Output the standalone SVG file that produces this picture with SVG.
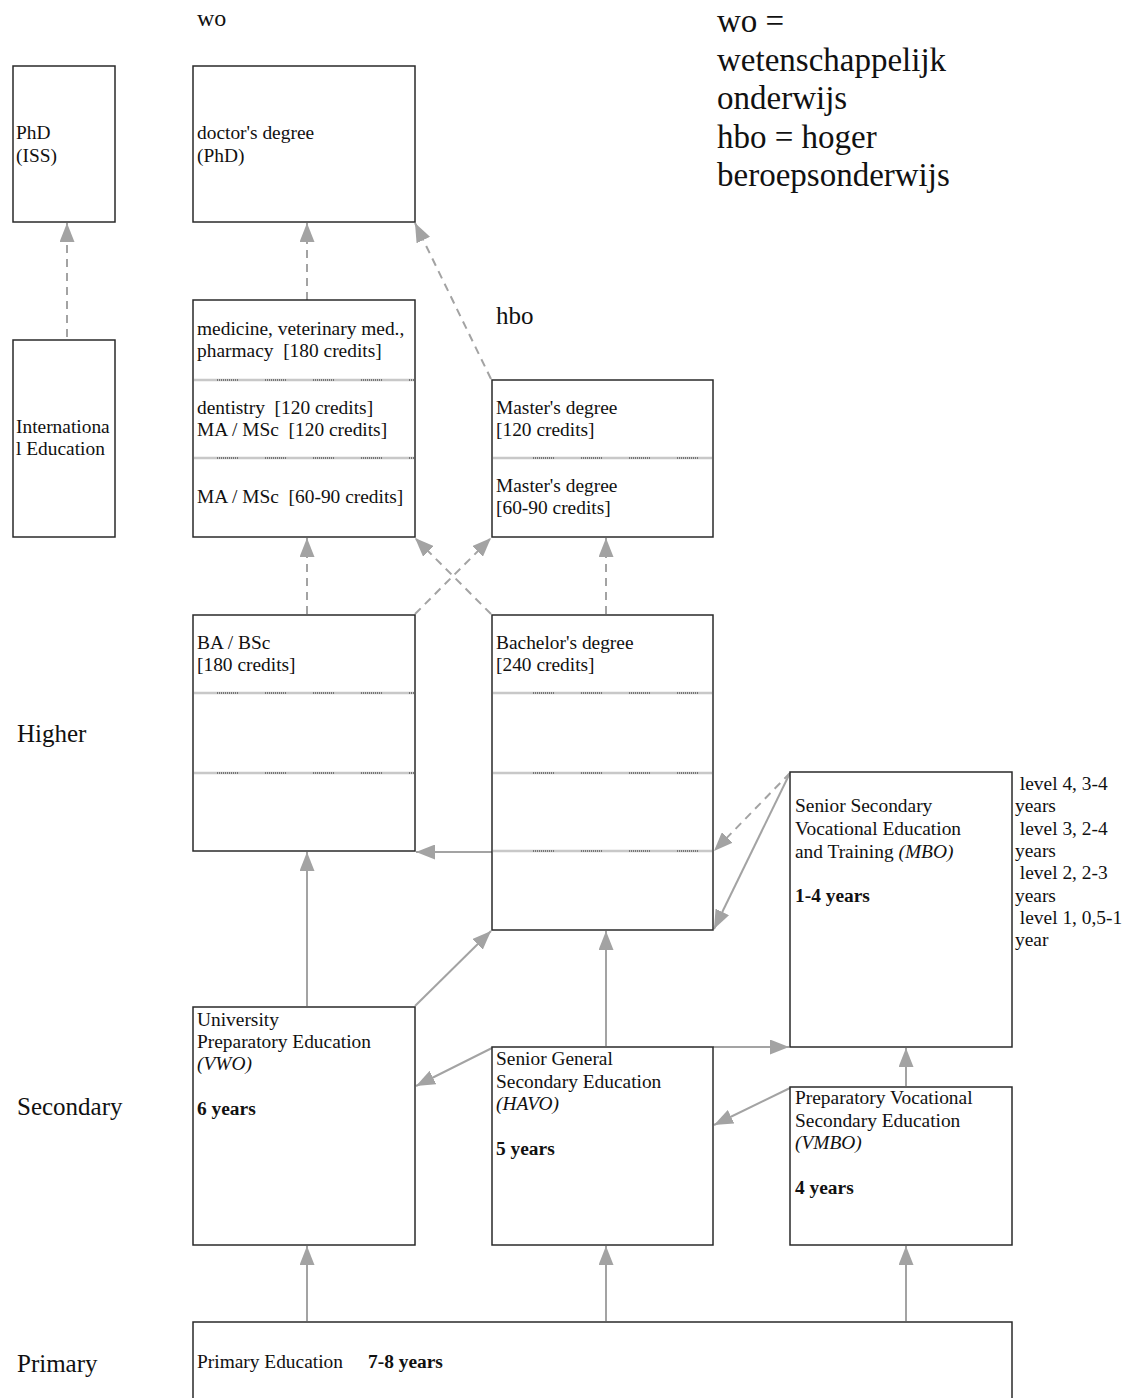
<svg xmlns="http://www.w3.org/2000/svg" width="1126" height="1398" viewBox="0 0 1126 1398">
<defs>
<marker id="ah" viewBox="0 0 19 15" refX="19" refY="7.5" markerWidth="19" markerHeight="15" markerUnits="userSpaceOnUse" orient="auto">
<path d="M0,0 L19,7.5 L0,15 Z" fill="#a3a3a3"/>
</marker>
<style>
text{font-family:"Liberation Serif","Times New Roman",serif;fill:#111;white-space:pre;}
.t{font-size:19.4px;}
.lab{font-size:25px;}
.wo{font-size:24px;}
.big{font-size:33px;}
.b{font-weight:bold;}
.i{font-style:italic;}
.box{fill:#fff;stroke:#2a2a2a;stroke-width:1.5;}
.div1{stroke:#c8c8c8;stroke-width:2.5;}
.div2{stroke:#222;stroke-width:1.2;stroke-dasharray:1 1 1 1 1 1 1 1 1 1 1 1 1 1 1 1 1 1 1 1 1 27;}
.c{stroke:#a3a3a3;stroke-width:2;fill:none;marker-end:url(#ah);}
.d{stroke-dasharray:8 6;}
</style>
</defs>
<rect width="1126" height="1398" fill="#fff"/>

<g id="labels">
<text class="wo" x="197" y="26">wo</text>
<text class="lab" x="496" y="324">hbo</text>
<text class="lab" x="17" y="742">Higher</text>
<text class="lab" x="17" y="1115">Secondary</text>
<text class="lab" x="17" y="1372">Primary</text>
<text class="big" x="717" y="32">wo =</text>
<text class="big" x="717" y="71">wetenschappelijk</text>
<text class="big" x="717" y="109">onderwijs</text>
<text class="big" x="717" y="148">hbo = hoger</text>
<text class="big" x="717" y="186">beroepsonderwijs</text>
</g>

<g id="connectors">
<line class="c d" x1="67" y1="337" x2="67" y2="223"/>
<line class="c d" x1="307" y1="300" x2="307" y2="223"/>
<line class="c d" x1="491" y1="379" x2="415" y2="223"/>
<line class="c d" x1="307" y1="614" x2="307" y2="538"/>
<line class="c d" x1="415" y1="614" x2="491" y2="538"/>
<line class="c d" x1="491" y1="614" x2="415" y2="538"/>
<line class="c d" x1="606" y1="614" x2="606" y2="538"/>
<line class="c d" x1="790" y1="773" x2="714" y2="851"/>
<line class="c" x1="790" y1="773" x2="714" y2="929"/>
<line class="c" x1="492" y1="852" x2="416" y2="852"/>
<line class="c" x1="307" y1="1006" x2="307" y2="852"/>
<line class="c" x1="415" y1="1006" x2="491" y2="931"/>
<line class="c" x1="606" y1="1046" x2="606" y2="931"/>
<line class="c" x1="492" y1="1048" x2="416" y2="1086"/>
<line class="c" x1="713" y1="1047" x2="789" y2="1047"/>
<line class="c" x1="790" y1="1088" x2="714" y2="1125"/>
<line class="c" x1="906" y1="1086" x2="906" y2="1048"/>
<line class="c" x1="307" y1="1321" x2="307" y2="1246"/>
<line class="c" x1="606" y1="1321" x2="606" y2="1246"/>
<line class="c" x1="906" y1="1321" x2="906" y2="1246"/>
</g>

<g id="phd-iss">
<rect class="box" x="13" y="66" width="102" height="156"/>
<text class="t" x="16" y="139">PhD</text>
<text class="t" x="16" y="162">(ISS)</text>
</g>

<g id="doctor">
<rect class="box" x="193" y="66" width="222" height="156"/>
<text class="t" x="197" y="139">doctor's degree</text>
<text class="t" x="197" y="162">(PhD)</text>
</g>

<g id="international">
<rect class="box" x="13" y="340" width="102" height="197"/>
<text class="t" x="16" y="433">Internationa</text>
<text class="t" x="16" y="455">l Education</text>
</g>

<g id="wo-master">
<rect class="box" x="193" y="300" width="222" height="237"/>
<line class="div1" x1="194" y1="380" x2="414" y2="380"/>
<line class="div2" x1="217" y1="380" x2="414" y2="380"/>
<line class="div1" x1="194" y1="458" x2="414" y2="458"/>
<line class="div2" x1="217" y1="458" x2="414" y2="458"/>
<text class="t" x="197" y="335">medicine, veterinary med.,</text>
<text class="t" x="197" y="357">pharmacy  [180 credits]</text>
<text class="t" x="197" y="414">dentistry  [120 credits]</text>
<text class="t" x="197" y="436">MA / MSc  [120 credits]</text>
<text class="t" x="197" y="503">MA / MSc  [60-90 credits]</text>
</g>

<g id="hbo-master">
<rect class="box" x="492" y="380" width="221" height="157"/>
<line class="div1" x1="493" y1="458" x2="712" y2="458"/>
<line class="div2" x1="533" y1="458" x2="712" y2="458"/>
<text class="t" x="496" y="414">Master's degree</text>
<text class="t" x="496" y="436">[120 credits]</text>
<text class="t" x="496" y="492">Master's degree</text>
<text class="t" x="496" y="514">[60-90 credits]</text>
</g>

<g id="ba-bsc">
<rect class="box" x="193" y="615" width="222" height="236"/>
<line class="div1" x1="194" y1="693" x2="414" y2="693"/>
<line class="div2" x1="217" y1="693" x2="414" y2="693"/>
<line class="div1" x1="194" y1="773" x2="414" y2="773"/>
<line class="div2" x1="217" y1="773" x2="414" y2="773"/>
<text class="t" x="197" y="649">BA / BSc</text>
<text class="t" x="197" y="671">[180 credits]</text>
</g>

<g id="bachelor">
<rect class="box" x="492" y="615" width="221" height="315"/>
<line class="div1" x1="493" y1="693" x2="712" y2="693"/>
<line class="div2" x1="533" y1="693" x2="712" y2="693"/>
<line class="div1" x1="493" y1="773" x2="712" y2="773"/>
<line class="div2" x1="533" y1="773" x2="712" y2="773"/>
<line class="div1" x1="493" y1="851" x2="712" y2="851"/>
<line class="div2" x1="533" y1="851" x2="712" y2="851"/>
<text class="t" x="496" y="649">Bachelor's degree</text>
<text class="t" x="496" y="671">[240 credits]</text>
</g>

<g id="mbo">
<rect class="box" x="790" y="772" width="222" height="275"/>
<text class="t" x="795" y="812">Senior Secondary</text>
<text class="t" x="795" y="835">Vocational Education</text>
<text class="t" x="795" y="858">and Training <tspan class="i">(MBO)</tspan></text>
<text class="t b" x="795" y="902">1-4 years</text>
</g>

<g id="mbo-levels">
<text class="t" x="1015" y="790"> level 4, 3-4</text>
<text class="t" x="1015" y="812">years</text>
<text class="t" x="1015" y="835"> level 3, 2-4</text>
<text class="t" x="1015" y="857">years</text>
<text class="t" x="1015" y="879"> level 2, 2-3</text>
<text class="t" x="1015" y="902">years</text>
<text class="t" x="1015" y="924"> level 1, 0,5-1</text>
<text class="t" x="1015" y="946">year</text>
</g>

<g id="vwo">
<rect class="box" x="193" y="1007" width="222" height="238"/>
<text class="t" x="197" y="1026">University</text>
<text class="t" x="197" y="1048">Preparatory Education</text>
<text class="t i" x="197" y="1070">(VWO)</text>
<text class="t b" x="197" y="1115">6 years</text>
</g>

<g id="havo">
<rect class="box" x="492" y="1047" width="221" height="198"/>
<text class="t" x="496" y="1065">Senior General</text>
<text class="t" x="496" y="1088">Secondary Education</text>
<text class="t i" x="496" y="1110">(HAVO)</text>
<text class="t b" x="496" y="1155">5 years</text>
</g>

<g id="vmbo">
<rect class="box" x="790" y="1087" width="222" height="158"/>
<text class="t" x="795" y="1104">Preparatory Vocational</text>
<text class="t" x="795" y="1127">Secondary Education</text>
<text class="t i" x="795" y="1149">(VMBO)</text>
<text class="t b" x="795" y="1194">4 years</text>
</g>

<g id="primary">
<rect class="box" x="193" y="1322" width="819" height="90"/>
<text class="t" x="197" y="1368">Primary Education</text>
<text class="t b" x="368" y="1368">7-8 years</text>
</g>
</svg>
